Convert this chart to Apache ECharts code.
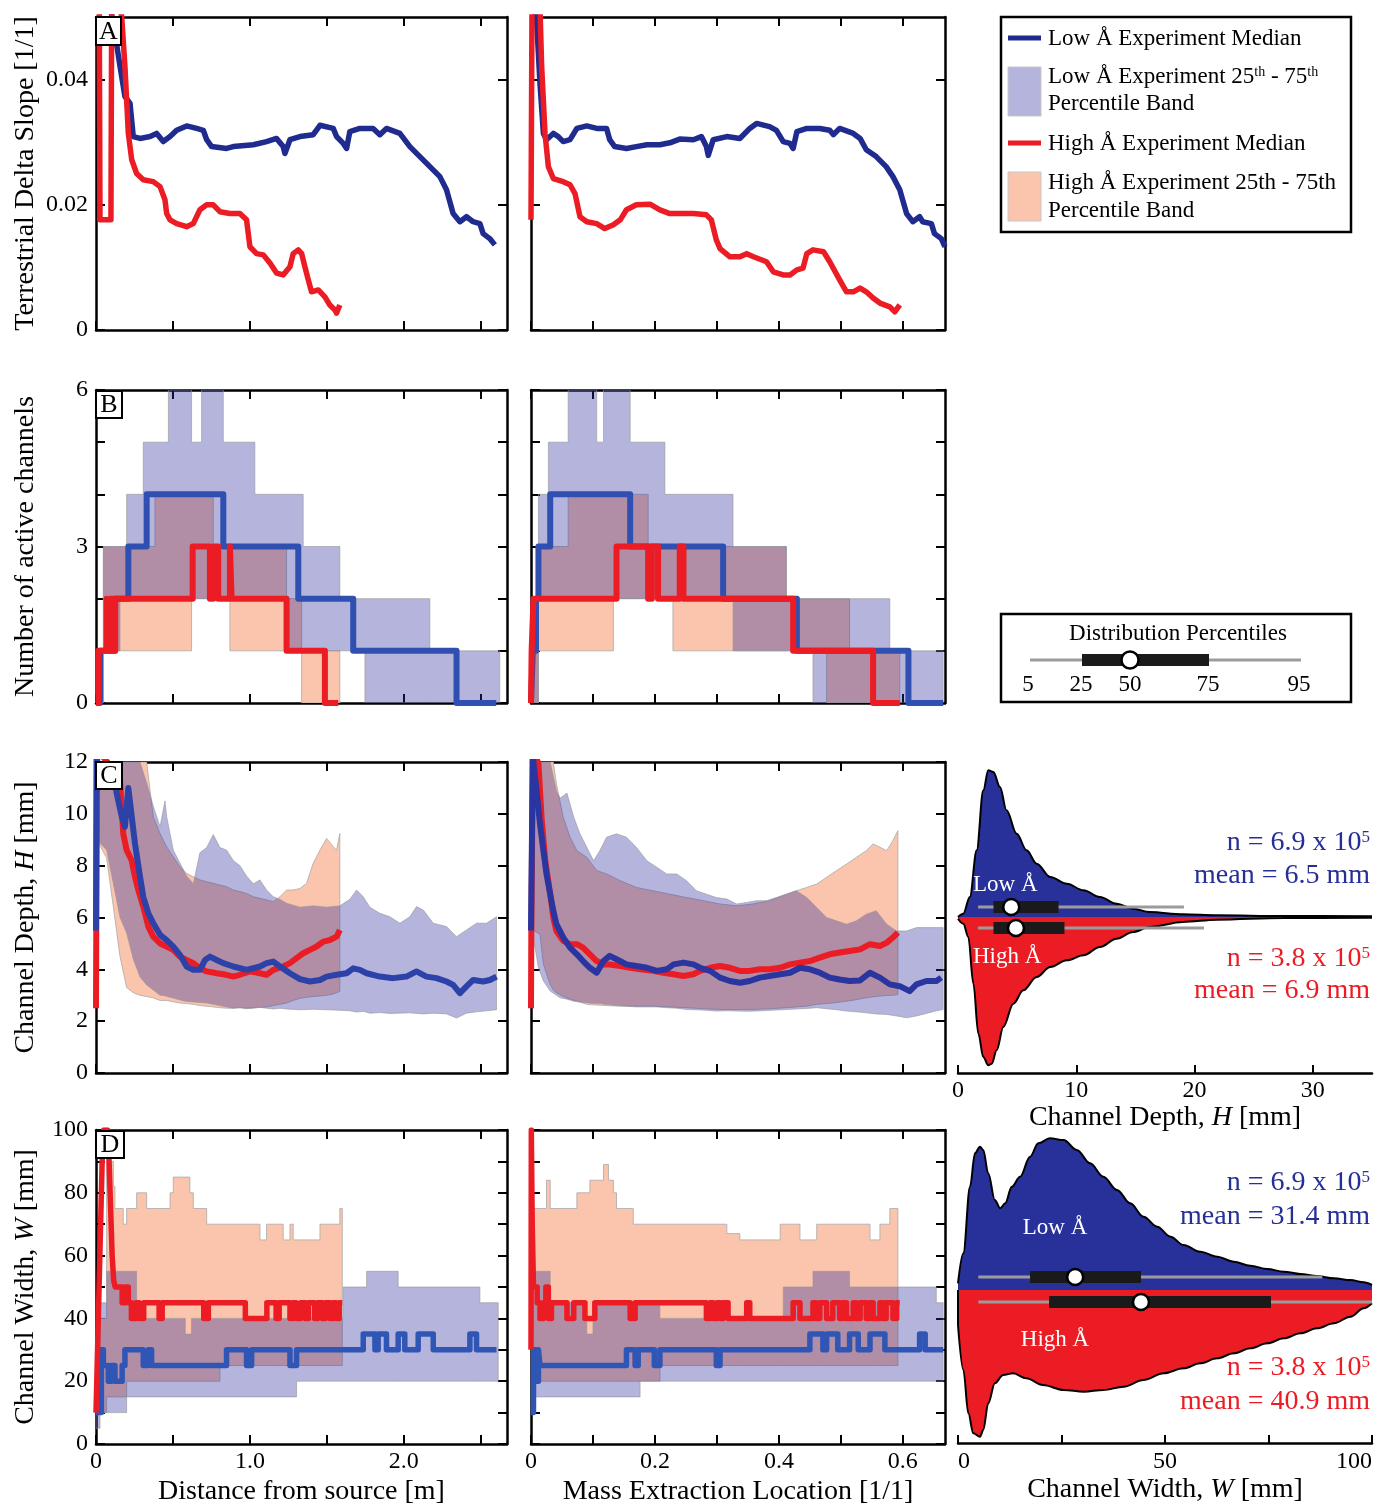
<!DOCTYPE html>
<html><head><meta charset="utf-8">
<script src="https://cdn.jsdelivr.net/npm/echarts@6/dist/echarts.min.js"></script>
<style>html,body{margin:0;padding:0;background:#fff}#c{width:1392px;height:1507px}</style>
</head><body><div id="c"></div>
<script>
// ---------------- DATA ----------------
// Row A: terrestrial delta slope (median)
const slopeLowDist = [[0.09,0.052],[0.123,0.0474],[0.156,0.0421],[0.188,0.0373],[0.221,0.0362],[0.242,0.0309],[0.286,0.0306],[0.351,0.0309],[0.394,0.0314],[0.437,0.0301],[0.481,0.0309],[0.524,0.0319],[0.589,0.0326],[0.654,0.0322],[0.697,0.0319],[0.719,0.0304],[0.751,0.0293],[0.848,0.0290],[0.892,0.0293],[1.022,0.0296],[1.108,0.0301],[1.173,0.0306],[1.216,0.0293],[1.227,0.0282],[1.26,0.0304],[1.325,0.0309],[1.411,0.0312],[1.455,0.0327],[1.541,0.0322],[1.563,0.0309],[1.606,0.0298],[1.628,0.0290],[1.649,0.0317],[1.714,0.0322],[1.80,0.0322],[1.844,0.0312],[1.887,0.0322],[1.974,0.0314],[2.039,0.0293],[2.104,0.0277],[2.169,0.0261],[2.234,0.0245],[2.277,0.0224],[2.32,0.0186],[2.364,0.0173],[2.407,0.0181],[2.45,0.0173],[2.494,0.0170],[2.515,0.0154],[2.558,0.0146],[2.591,0.0136]];
const slopeHighDist = [[0.02,0.06],[0.026,0.0176],[0.097,0.0176],[0.103,0.06],[0.167,0.05],[0.188,0.0421],[0.210,0.0314],[0.232,0.0272],[0.264,0.0250],[0.307,0.0240],[0.372,0.0237],[0.416,0.0229],[0.448,0.0208],[0.459,0.0186],[0.481,0.0176],[0.524,0.0170],[0.589,0.0165],[0.632,0.0170],[0.675,0.0192],[0.719,0.0200],[0.762,0.0200],[0.805,0.0189],[0.870,0.0186],[0.935,0.0186],[0.978,0.0176],[1.0,0.0133],[1.043,0.0122],[1.087,0.0120],[1.13,0.0107],[1.173,0.0091],[1.216,0.0088],[1.26,0.0101],[1.281,0.0122],[1.314,0.0128],[1.336,0.0122],[1.357,0.0101],[1.379,0.0080],[1.4,0.0061],[1.444,0.0064],[1.487,0.0053],[1.519,0.0040],[1.552,0.0032],[1.563,0.0027],[1.584,0.0040]];
const slopeLowMass = [[0.004,0.052],[0.009,0.0495],[0.0145,0.0394],[0.020,0.0314],[0.025,0.0304],[0.036,0.0314],[0.044,0.0309],[0.052,0.0301],[0.063,0.0304],[0.074,0.0322],[0.090,0.0326],[0.106,0.0322],[0.122,0.0322],[0.127,0.0304],[0.135,0.0293],[0.154,0.0290],[0.170,0.0293],[0.187,0.0296],[0.208,0.0296],[0.224,0.0299],[0.240,0.0305],[0.262,0.0304],[0.275,0.0309],[0.283,0.0293],[0.286,0.0279],[0.294,0.0304],[0.316,0.0309],[0.337,0.0306],[0.353,0.0322],[0.364,0.0330],[0.385,0.0325],[0.396,0.0319],[0.407,0.0301],[0.418,0.0298],[0.423,0.0290],[0.429,0.0317],[0.445,0.0322],[0.466,0.0322],[0.482,0.0319],[0.488,0.0312],[0.498,0.0322],[0.520,0.0314],[0.531,0.0306],[0.541,0.0288],[0.557,0.0277],[0.573,0.0261],[0.584,0.0245],[0.595,0.0224],[0.606,0.0186],[0.616,0.0173],[0.627,0.0181],[0.632,0.0173],[0.646,0.0170],[0.651,0.0154],[0.662,0.0146],[0.668,0.0133]];
const slopeHighMass = [[0,0.0176],[0.002,0.06],[0.012,0.06],[0.0172,0.0421],[0.0226,0.0314],[0.028,0.0261],[0.036,0.0242],[0.052,0.0237],[0.063,0.0232],[0.071,0.0218],[0.079,0.0181],[0.090,0.0173],[0.106,0.0170],[0.119,0.0162],[0.133,0.0168],[0.144,0.0176],[0.154,0.0192],[0.170,0.0200],[0.192,0.0201],[0.208,0.0192],[0.224,0.0186],[0.240,0.0186],[0.262,0.0186],[0.283,0.0184],[0.291,0.0176],[0.299,0.0144],[0.305,0.0130],[0.321,0.0117],[0.337,0.0117],[0.348,0.0122],[0.359,0.0117],[0.380,0.0109],[0.391,0.0093],[0.407,0.0088],[0.418,0.0088],[0.429,0.0096],[0.439,0.0099],[0.445,0.0122],[0.455,0.0128],[0.472,0.0125],[0.482,0.0109],[0.498,0.0080],[0.509,0.0061],[0.520,0.0061],[0.531,0.0067],[0.541,0.0061],[0.552,0.0051],[0.563,0.0043],[0.579,0.0037],[0.587,0.0029],[0.595,0.0040]];

// Row B: number of active channels (median, step) and 25-75 bands [x, lo, hi]
const chanLowDist = [[0,0],[0.026,1],[0.123,2],[0.21,3],[0.329,4],[0.827,3],[1.314,2],[1.671,1],[2.342,0],[2.60,0]];
const chanHighDist = [[0,0],[0.015,1],[0.069,2],[0.08,1],[0.095,2],[0.11,1],[0.125,2],[0.628,3],[0.74,2],[0.762,3],[0.794,2],[0.87,3],[0.881,2],[1.238,1],[1.487,0],[1.574,0]];
const chanLowMass = [[0,0],[0.003,1],[0.008,2],[0.012,3],[0.031,4],[0.160,3],[0.310,2],[0.429,1],[0.609,0],[0.665,0]];
const chanHighMass = [[0,0],[0.001,1],[0.004,2],[0.138,3],[0.189,2],[0.195,3],[0.205,2],[0.240,3],[0.246,2],[0.423,1],[0.552,0],[0.595,0]];
const chanBandLowDist = [[0,0,1],[0.048,1,3],[0.156,2,3],[0.199,2,4],[0.307,2,5],[0.47,2,6],[0.621,2,5],[0.686,2,6],[0.827,2,5],[1.032,2,4],[1.238,1,4],[1.346,1,3],[1.584,1,2],[1.747,0,2],[2.169,0,1],[2.623,0,1]];
const chanBandHighDist = [[0.015,0,1],[0.048,1,3],[0.383,1,4],[0.621,2,4],[0.762,2,3],[0.870,1,3],[1.238,1,2],[1.336,0,1],[1.584,0,1]];
const chanBandLowMass = [[0,0,1],[0.012,2,4],[0.028,2,5],[0.060,2,6],[0.106,2,5],[0.117,2,6],[0.160,2,5],[0.216,2,4],[0.326,1,3],[0.412,1,2],[0.455,0,2],[0.579,0,1],[0.665,0,1]];
const chanBandHighMass = [[0.001,0,2],[0.012,1,3],[0.060,1,4],[0.133,2,4],[0.189,2,3],[0.229,1,3],[0.412,1,2],[0.477,0,2],[0.514,0,1],[0.595,0,1]];

// Row C: channel depth H [mm]
const depthLowDist = [[0,5.5],[0.004,12.5],[0.015,11.2],[0.113,11.7],[0.134,10.8],[0.167,9.9],[0.188,9.5],[0.210,11.0],[0.232,9.9],[0.253,8.86],[0.286,7.57],[0.307,6.8],[0.340,6.16],[0.372,5.78],[0.416,5.33],[0.459,5.13],[0.502,4.88],[0.545,4.56],[0.589,4.11],[0.632,3.98],[0.675,3.98],[0.708,4.36],[0.740,4.49],[0.784,4.36],[0.827,4.24],[0.892,4.11],[0.978,3.98],[1.065,4.11],[1.108,4.24],[1.152,4.30],[1.195,4.11],[1.26,3.85],[1.325,3.62],[1.39,3.53],[1.455,3.59],[1.498,3.72],[1.563,3.79],[1.628,3.85],[1.671,4.04],[1.714,3.98],[1.758,3.85],[1.844,3.72],[1.931,3.66],[2.017,3.72],[2.082,3.92],[2.147,3.72],[2.212,3.66],[2.277,3.53],[2.32,3.40],[2.364,3.08],[2.407,3.34],[2.45,3.59],[2.515,3.53],[2.558,3.59],[2.602,3.72]];
const depthHighDist = [[0,2.5],[0.006,12.5],[0.113,11.7],[0.156,11.3],[0.177,9.24],[0.199,8.6],[0.232,8.2],[0.253,7.57],[0.275,7.06],[0.307,6.42],[0.340,5.65],[0.372,5.26],[0.416,5.0],[0.459,4.88],[0.502,4.75],[0.545,4.49],[0.589,4.36],[0.632,4.24],[0.675,4.04],[0.719,3.92],[0.784,3.85],[0.848,3.79],[0.892,3.72],[0.935,3.79],[1.0,3.92],[1.065,3.85],[1.108,3.79],[1.152,3.98],[1.216,4.11],[1.26,4.24],[1.303,4.43],[1.346,4.62],[1.39,4.75],[1.433,4.88],[1.476,5.07],[1.519,5.13],[1.563,5.26],[1.584,5.52]];
const depthLowMass = [[0,5.5],[0.003,12.5],[0.004,11.94],[0.009,10.9],[0.0145,9.61],[0.020,8.58],[0.025,7.68],[0.031,6.9],[0.036,6.26],[0.041,5.74],[0.052,5.23],[0.063,4.84],[0.074,4.58],[0.084,4.32],[0.095,4.06],[0.106,3.87],[0.117,4.32],[0.127,4.52],[0.138,4.39],[0.154,4.19],[0.170,4.13],[0.187,4.06],[0.203,3.94],[0.219,4.0],[0.230,4.19],[0.246,4.26],[0.262,4.19],[0.273,4.06],[0.289,3.94],[0.305,3.68],[0.321,3.55],[0.337,3.48],[0.353,3.55],[0.369,3.68],[0.385,3.74],[0.402,3.81],[0.418,3.87],[0.434,4.06],[0.450,4.0],[0.466,3.87],[0.482,3.68],[0.498,3.61],[0.514,3.55],[0.531,3.57],[0.547,3.87],[0.563,3.68],[0.579,3.42],[0.595,3.35],[0.611,3.16],[0.622,3.42],[0.638,3.55],[0.654,3.55],[0.662,3.68]];
const depthHighMass = [[0,2.5],[0.0005,5.4],[0.003,12.5],[0.012,11.94],[0.017,9.87],[0.023,8.19],[0.031,6.9],[0.036,6.0],[0.041,5.48],[0.052,5.1],[0.063,4.97],[0.074,4.97],[0.084,4.84],[0.095,4.58],[0.106,4.32],[0.117,4.19],[0.127,4.19],[0.144,4.13],[0.160,4.06],[0.176,4.0],[0.197,3.94],[0.213,3.87],[0.230,3.81],[0.246,3.74],[0.262,3.81],[0.273,3.94],[0.289,4.06],[0.305,4.13],[0.321,4.06],[0.337,3.94],[0.353,3.94],[0.369,4.0],[0.385,4.0],[0.402,4.06],[0.418,4.19],[0.434,4.26],[0.450,4.32],[0.466,4.45],[0.482,4.58],[0.498,4.65],[0.514,4.71],[0.531,4.77],[0.547,4.97],[0.563,4.9],[0.574,5.03],[0.584,5.23],[0.592,5.42]];
const depthBandLowDist = [[0.004,9.0,12],[0.069,8.6,12],[0.113,7.3,12],[0.156,6.0,12],[0.199,5.4,12],[0.242,4.4,12],[0.286,3.7,12],[0.329,3.4,11.2],[0.372,3.2,10.3],[0.416,3.0,9.5],[0.448,2.98,10.5],[0.459,2.95,9.9],[0.502,2.89,8.6],[0.545,2.82,8.1],[0.589,2.76,7.6],[0.632,2.74,7.3],[0.675,2.72,8.5],[0.719,2.70,8.7],[0.762,2.65,9.2],[0.805,2.60,8.7],[0.848,2.55,8.6],[0.892,2.50,8.2],[0.935,2.52,8.0],[0.978,2.48,7.6],[1.022,2.50,7.3],[1.065,2.53,7.45],[1.108,2.50,7.06],[1.152,2.47,6.8],[1.195,2.50,6.7],[1.238,2.47,6.55],[1.325,2.44,6.4],[1.411,2.46,6.45],[1.498,2.44,6.4],[1.584,2.42,6.45],[1.649,2.40,6.7],[1.693,2.35,7.06],[1.736,2.38,6.8],[1.779,2.31,6.4],[1.844,2.33,6.16],[1.909,2.30,6.03],[1.974,2.31,5.78],[2.039,2.32,6.03],[2.082,2.30,6.42],[2.126,2.28,6.29],[2.191,2.31,5.78],[2.277,2.28,5.65],[2.342,2.12,5.26],[2.407,2.31,5.52],[2.472,2.36,5.78],[2.537,2.40,5.78],[2.602,2.44,6.03]];
const depthBandHighDist = [[0.004,9.0,12],[0.069,8.3,12],[0.113,6.4,12],[0.156,4.5,12],[0.199,3.3,12],[0.242,3.1,12],[0.286,3.0,12],[0.329,2.95,12],[0.372,2.9,9.88],[0.416,2.8,9.24],[0.459,2.8,8.73],[0.502,2.75,8.34],[0.545,2.7,7.96],[0.589,2.68,7.70],[0.632,2.65,7.57],[0.675,2.6,7.45],[0.719,2.58,7.38],[0.762,2.55,7.32],[0.805,2.52,7.25],[0.848,2.5,7.19],[0.892,2.5,7.06],[0.935,2.52,7.0],[0.978,2.5,6.93],[1.022,2.52,6.8],[1.065,2.53,6.74],[1.108,2.55,6.68],[1.152,2.6,6.61],[1.195,2.65,6.8],[1.238,2.7,7.06],[1.281,2.8,7.06],[1.325,2.88,7.12],[1.368,2.92,7.32],[1.411,2.95,8.09],[1.455,2.97,8.6],[1.498,3.0,9.05],[1.541,3.05,8.73],[1.563,3.1,8.6],[1.584,3.15,9.24]];
const depthBandLowMass = [[0.004,5.2,12],[0.012,4.06,12],[0.020,3.55,12],[0.031,3.16,12],[0.041,3.0,10.9],[0.047,2.9,10.6],[0.058,2.85,10.8],[0.069,2.77,9.87],[0.079,2.74,9.23],[0.090,2.71,8.71],[0.101,2.68,8.19],[0.111,2.68,8.58],[0.122,2.64,9.1],[0.138,2.6,9.23],[0.154,2.58,9.1],[0.170,2.55,8.71],[0.187,2.55,8.19],[0.203,2.55,7.94],[0.219,2.52,7.68],[0.235,2.5,7.68],[0.251,2.45,7.42],[0.267,2.44,7.03],[0.283,2.42,6.9],[0.299,2.39,6.77],[0.316,2.40,6.71],[0.332,2.39,6.52],[0.348,2.38,6.58],[0.364,2.39,6.65],[0.380,2.41,6.65],[0.396,2.43,6.77],[0.412,2.45,6.9],[0.428,2.47,7.03],[0.445,2.49,6.77],[0.461,2.52,6.39],[0.477,2.48,6.0],[0.493,2.44,5.87],[0.509,2.39,5.74],[0.525,2.36,5.87],[0.541,2.32,6.13],[0.557,2.28,6.26],[0.574,2.26,5.74],[0.590,2.2,5.48],[0.606,2.13,5.48],[0.622,2.2,5.61],[0.638,2.3,5.61],[0.654,2.4,5.61],[0.665,2.45,5.61]];
const depthBandHighMass = [[0.004,5.5,12],[0.0145,5.35,12],[0.020,4.19,12],[0.031,3.42,12],[0.036,3.2,12],[0.041,3.1,11.16],[0.052,2.95,9.87],[0.063,2.85,9.1],[0.074,2.77,8.58],[0.090,2.65,8.32],[0.106,2.62,7.81],[0.122,2.6,7.68],[0.144,2.58,7.42],[0.170,2.58,7.16],[0.197,2.58,7.03],[0.224,2.55,6.9],[0.251,2.52,6.77],[0.278,2.48,6.65],[0.305,2.45,6.52],[0.332,2.45,6.45],[0.358,2.45,6.52],[0.385,2.48,6.65],[0.412,2.52,6.9],[0.428,2.55,7.03],[0.445,2.58,7.16],[0.461,2.65,7.29],[0.477,2.68,7.55],[0.493,2.72,7.81],[0.509,2.77,8.06],[0.525,2.83,8.32],[0.541,2.9,8.58],[0.552,2.94,8.84],[0.563,2.97,8.71],[0.574,2.99,8.58],[0.584,3.0,8.97],[0.592,3.03,9.35]];

// Row D: channel width W [mm] (median, step) and bands
const widthLowDist = [[0,10],[0.035,30],[0.048,25],[0.08,20],[0.10,25],[0.123,20],[0.17,25],[0.188,30],[0.307,25],[0.340,30],[0.361,25],[0.848,30],[0.978,25],[1.011,30],[1.26,25],[1.303,30],[1.736,35],[1.812,30],[1.833,35],[1.887,30],[1.963,35],[2.006,30],[2.093,35],[2.191,30],[2.429,35],[2.472,30],[2.602,30]];
const widthHighDist = [[0,10],[0.01,30],[0.02,50],[0.03,70],[0.04,90],[0.05,100],[0.075,100],[0.085,90],[0.095,75],[0.105,60],[0.115,52],[0.125,50],[0.17,45],[0.19,50],[0.21,45],[0.23,40],[0.26,45],[0.28,40],[0.31,45],[0.41,40],[0.43,45],[0.70,40],[0.73,45],[0.97,40],[1.11,45],[1.17,40],[1.19,45],[1.26,40],[1.28,45],[1.30,40],[1.33,45],[1.36,40],[1.38,45],[1.42,40],[1.44,45],[1.47,40],[1.49,45],[1.52,40],[1.54,45],[1.56,40],[1.58,45],[1.60,45]];
const widthLowMass = [[0,10],[0.004,30],[0.008,20],[0.012,30],[0.0145,25],[0.154,30],[0.168,25],[0.173,30],[0.199,25],[0.208,30],[0.299,25],[0.305,30],[0.45,35],[0.471,30],[0.477,35],[0.495,30],[0.514,35],[0.528,30],[0.547,35],[0.571,30],[0.627,35],[0.636,30],[0.665,30]];
const widthHighMass = [[0,30],[0.0005,100],[0.002,70],[0.004,50],[0.010,45],[0.0145,40],[0.020,45],[0.024,50],[0.028,40],[0.033,45],[0.058,40],[0.069,45],[0.087,40],[0.103,45],[0.160,40],[0.168,45],[0.283,40],[0.289,45],[0.294,40],[0.30,45],[0.305,40],[0.31,45],[0.318,40],[0.348,45],[0.353,40],[0.423,45],[0.434,40],[0.455,45],[0.46,40],[0.466,45],[0.477,40],[0.487,45],[0.498,40],[0.503,45],[0.509,40],[0.52,45],[0.525,40],[0.531,45],[0.541,40],[0.546,45],[0.552,40],[0.563,45],[0.568,40],[0.573,45],[0.584,40],[0.59,45],[0.595,45]];
const widthBandLowDist = [[0,5,25],[0.026,10,45],[0.069,10,55],[0.199,15,55],[0.264,15,45],[0.30,15,40],[0.58,15,35],[0.62,15,40],[1.303,20,40],[1.606,20,50],[1.758,20,55],[1.963,20,50],[2.494,20,45],[2.613,20,45]];
const widthBandHighDist = [[0.026,10,40],[0.069,15,90],[0.113,15,82],[0.123,15,75],[0.177,15,70],[0.199,20,75],[0.264,20,80],[0.329,20,75],[0.481,20,80],[0.502,20,85],[0.61,20,80],[0.632,20,75],[0.719,20,70],[0.805,25,70],[1.065,25,65],[1.108,25,70],[1.216,25,65],[1.26,25,70],[1.281,25,65],[1.455,25,70],[1.584,25,75],[1.60,25,75]];
const widthBandLowMass = [[0,10,30],[0.002,10,50],[0.006,15,55],[0.031,15,45],[0.09,15,35],[0.10,15,45],[0.176,20,45],[0.208,20,40],[0.407,20,50],[0.455,20,55],[0.514,20,50],[0.654,20,45],[0.665,20,45]];
const widthBandHighMass = [[0.001,20,75],[0.025,20,84],[0.031,20,75],[0.074,20,80],[0.095,20,84],[0.117,20,89],[0.125,20,84],[0.133,20,80],[0.138,20,75],[0.165,20,70],[0.208,25,70],[0.316,25,67],[0.337,25,65],[0.402,25,70],[0.434,25,65],[0.461,25,70],[0.547,25,65],[0.563,25,70],[0.579,25,75],[0.592,25,75]];

// Violin densities (relative, arbitrary units) [value mm, density]
const depthLowViolin = [[0,0],[0.45,3.3],[1.0,20],[1.58,66.7],[2.14,126.7],[2.56,146.7],[2.99,145],[3.55,130],[4.1,106.7],[4.96,83.3],[5.8,66.7],[6.65,53.3],[7.8,40],[9.2,33.3],[10.6,26.7],[12.0,20],[13.4,13.3],[14.8,8.3],[16.2,5],[19.0,2.7],[21.9,1.7],[27.5,1],[35,0.7]];
const depthHighViolin = [[0,1.7],[0.45,6.7],[0.87,20],[1.3,66.7],[1.72,116.7],[2.14,140],[2.56,148.3],[2.85,146.7],[3.27,133.3],[3.83,110],[4.68,86.7],[5.52,73.3],[6.65,60],[7.8,50],[9.2,43.3],[10.6,38.3],[12.0,30],[13.4,21.7],[14.8,15],[16.2,10],[19.0,5],[21.9,2.7],[27.5,1],[35,0.7]];
const widthLowViolin = [[0,6.7],[1.29,36.7],[2.9,103.3],[4.1,136.7],[5.3,143.3],[6.1,140],[7.3,116.7],[8.9,90],[10.2,81.7],[11.4,86.7],[13.0,103.3],[15.0,113.3],[17.4,133.3],[19.4,146.7],[22.2,151.7],[25.5,150],[28.7,140],[31.9,126.7],[35.1,113.3],[38.4,100],[41.6,86.7],[44.8,73.3],[48.1,63.3],[51.3,53.3],[54.5,45],[58.5,38.3],[62.6,33.3],[66.6,28.3],[70.6,24.3],[74.7,21],[78.7,18.3],[82.7,16],[86.7,14],[90.8,11.7],[94.8,10],[98,7.7],[100,5]];
const widthHighViolin = [[0,35],[1.29,80],[2.5,123.3],[3.7,143.3],[5.3,146.7],[6.1,140],[7.3,113.3],[8.9,93.3],[10.9,85],[13.3,83.3],[16.5,88.3],[20.5,95],[25.5,100],[30.4,101.7],[35.1,100],[40.0,96.7],[44.8,90],[49.7,83.3],[54.5,78.3],[58.5,73.3],[62.6,68.3],[66.6,63.3],[70.6,58.3],[74.7,53.3],[78.7,48.3],[82.7,43.3],[86.7,38.3],[90.8,33.3],[94.8,26.7],[98,18.3],[100,13.3]];
// Percentiles [p5, p25, p50, p75, p95]
const depthLowPct = [1.7, 3.0, 4.5, 8.5, 19.1];
const depthHighPct = [1.7, 3.0, 4.9, 9.0, 20.8];
const widthLowPct = [4.9, 17.4, 28.3, 44.2, 88];
const widthHighPct = [4.9, 22, 44.2, 75.6, 100];

// Tick values / labels
const distTicks = [0,0.5,1,1.5,2,2.5], distLabels = [0,1,2];
const massTicks = [0,0.1,0.2,0.3,0.4,0.5,0.6], massLabels = [0,0.2,0.4,0.6];
const slopeTicks = [0,0.02,0.04];
const chanTicks = [0,1,2,3,4,5,6], chanLabels = [0,3,6];
const depthTicks = [0,2,4,6,8,10,12];
const widthTicks = [0,10,20,30,40,50,60,70,80,90,100], widthLabels = [0,20,40,60,80,100];
const vDepthTicks = [0,10,20,30];
const vWidthTicks = [0,25,50,75,100], vWidthLabels = [0,50,100];

// ---------------- BUILD ----------------
const FONT = "'Liberation Serif','Times New Roman',serif";
const RED = '#ec1c24';
const BAND_BLUE_LEGEND = '#b4b4dc', BAND_PEACH = '#fac5ac';
const BAND_BLUE_FILL = 'rgba(41,41,155,0.35)';
const VBLUE = '#28309a';

const grids = [
  {left:96, top:17, width:411, height:313},
  {left:531, top:17, width:414, height:313},
  {left:96, top:390, width:411, height:313},
  {left:531, top:390, width:414, height:313},
  {left:96, top:762, width:411, height:311},
  {left:531, top:762, width:414, height:311},
  {left:96, top:1130, width:411, height:314},
  {left:531, top:1130, width:414, height:314},
  {left:958, top:757, width:414, height:316},
  {left:958, top:1135, width:414, height:308}
];

const cols = [
  {min:0, max:2.67, interval:0.5, ticks:distTicks, labels:distLabels, fmt:v=> v===0?'0':v.toFixed(1), name:'Distance from source [m]'},
  {min:0, max:0.668, interval:0.1, ticks:massTicks, labels:massLabels, fmt:v=> v===0?'0':v.toFixed(1), name:'Mass Extraction Location [1/1]'}
];
const italicRich = {i:{fontStyle:'italic', fontFamily:FONT, fontSize:28, color:'#000'}};
const rows = [
  {min:0, max:0.05, interval:0.02, ticks:slopeTicks, labels:slopeTicks, fmt:v=> v===0?'0':v.toFixed(2), name:'Terrestrial Delta Slope [1/1]'},
  {min:0, max:6, interval:1, ticks:chanTicks, labels:chanLabels, fmt:v=>String(v), name:'Number of active channels'},
  {min:0, max:12, interval:2, ticks:depthTicks, labels:depthTicks, fmt:v=>String(v), name:'Channel Depth, {i|H} [mm]'},
  {min:0, max:100, interval:10, ticks:widthTicks, labels:widthLabels, fmt:v=>String(v), name:'Channel Width, {i|W} [mm]'}
];

const axLine = {show:true, onZero:false, lineStyle:{color:'#000', width:2.5}};
const axTick = (vals)=>({show:true, inside:true, length:9, customValues:vals, lineStyle:{color:'#000', width:2}});
const nameStyle = {fontFamily:FONT, fontSize:28, color:'#000', rich:italicRich};

const xAxis = [], yAxis = [];
for (let g=0; g<8; g++) {
  const r = Math.floor(g/2), c = g%2;
  const cx = cols[c], ry = rows[r];
  const showX = (r===3);
  xAxis.push({type:'value', gridIndex:g, position:'bottom', min:cx.min, max:cx.max, interval:cx.interval,
    axisLine:axLine, axisTick:axTick(cx.ticks), splitLine:{show:false},
    axisLabel:{show:showX, customValues:cx.labels, formatter:cx.fmt, fontFamily:FONT, fontSize:24, color:'#000', margin:6},
    name: showX?cx.name:'', nameLocation:'middle', nameGap:34, nameTextStyle:nameStyle});
  xAxis.push({type:'value', gridIndex:g, position:'top', min:cx.min, max:cx.max, interval:cx.interval,
    axisLine:axLine, axisTick:axTick(cx.ticks), splitLine:{show:false}, axisLabel:{show:false}});
  yAxis.push({type:'value', gridIndex:g, position:'left', min:ry.min, max:ry.max, interval:ry.interval,
    axisLine:axLine, axisTick:axTick(ry.ticks), splitLine:{show:false},
    axisLabel:{show:c===0, customValues:ry.labels, formatter:ry.fmt, fontFamily:FONT, fontSize:24, color:'#000', margin:8},
    name: c===0?ry.name:'', nameLocation:'middle', nameGap:56, nameTextStyle:nameStyle});
  yAxis.push({type:'value', gridIndex:g, position:'right', min:ry.min, max:ry.max, interval:ry.interval,
    axisLine:axLine, axisTick:axTick(ry.ticks), splitLine:{show:false}, axisLabel:{show:false}});
}
// violin axes
xAxis.push({type:'value', gridIndex:8, position:'bottom', min:0, max:35, interval:10,
  axisLine:axLine, axisTick:{show:true, inside:true, length:8, customValues:vDepthTicks, lineStyle:{color:'#000', width:2}}, splitLine:{show:false},
  axisLabel:{customValues:vDepthTicks, fontFamily:FONT, fontSize:24, color:'#000', margin:6},
  name:'Channel Depth, {i|H} [mm]', nameLocation:'middle', nameGap:28, nameTextStyle:nameStyle});
xAxis.push({type:'value', gridIndex:9, position:'bottom', min:0, max:100, interval:25,
  axisLine:axLine, axisTick:{show:true, inside:true, length:8, customValues:vWidthTicks, lineStyle:{color:'#000', width:2}}, splitLine:{show:false},
  axisLabel:{customValues:vWidthLabels, fontFamily:FONT, fontSize:24, color:'#000', margin:7, alignMaxLabel:'right', alignMinLabel:'left'},
  name:'Channel Width, {i|W} [mm]', nameLocation:'middle', nameGap:33, nameTextStyle:nameStyle});
yAxis.push({type:'value', gridIndex:8, min:-156, max:160, show:false});
yAxis.push({type:'value', gridIndex:9, min:-153, max:155, show:false});

function bind(g){ return g<8 ? {xAxisIndex:2*g, yAxisIndex:2*g} : {xAxisIndex:8+g, yAxisIndex:8+g}; }

// 25-75 band polygon drawn from the data through the axes (api.coord)
function band(data, g, step, fill, stroke, z) {
  return Object.assign({
    type:'custom', z:z, silent:true, clip:true, data:data, encode:{x:0, y:[1,2]},
    renderItem:function(params, api){
      if (params.dataIndex !== 0) return null;
      const up=[], lo=[], n=data.length;
      if (step) {
        for (let i=0;i<n-1;i++){
          up.push(api.coord([data[i][0], data[i][2]]), api.coord([data[i+1][0], data[i][2]]));
          lo.push(api.coord([data[i][0], data[i][1]]), api.coord([data[i+1][0], data[i][1]]));
        }
      } else {
        for (let i=0;i<n;i++){ up.push(api.coord([data[i][0], data[i][2]])); lo.push(api.coord([data[i][0], data[i][1]])); }
      }
      return {type:'polygon', shape:{points:up.concat(lo.reverse())},
        style:{fill:fill, stroke:stroke, lineWidth:1}};
    }
  }, bind(g));
}
const peachBand = (d,g,step)=>band(d,g,step,BAND_PEACH,'rgba(170,170,170,0.8)',1);
const blueBand = (d,g,step)=>band(d,g,step,BAND_BLUE_FILL,'rgba(150,150,150,0.6)',2);

function line(data, g, color, width, step, z) {
  return Object.assign({type:'line', data:data, symbol:'none', showSymbol:false, step:step||false, z:z||3,
    silent:true, clip:true, lineStyle:{color:color, width:width, join:'round'}}, bind(g));
}
function violin(data, g, color, sign) {
  return Object.assign({type:'line', data:data.map(p=>[p[0], sign*p[1]]), symbol:'none', smooth:0.35, smoothMonotone:'x',
    silent:true, z:2, lineStyle:{color:'#000', width:2}, areaStyle:{color:color, opacity:1, origin:0}}, bind(g));
}
function violinEdge(data, g, sign) {
  return Object.assign({type:'line', data:[[data[0][0],0],[data[0][0], sign*data[0][1]]], symbol:'none', silent:true, z:3,
    lineStyle:{color:'#000', width:2}}, bind(g));
}
function pctMarker(p, g, off) {
  return [
    Object.assign({type:'line', data:[[p[0],off],[p[4],off]], symbol:'none', silent:true, z:5, lineStyle:{color:'#9b9b9b', width:3}}, bind(g)),
    Object.assign({type:'line', data:[[p[1],off],[p[3],off]], symbol:'none', silent:true, z:6, lineStyle:{color:'#1a1a1a', width:12, cap:'butt'}}, bind(g)),
    Object.assign({type:'scatter', data:[[p[2],off]], symbol:'circle', symbolSize:16, silent:true, z:7,
      itemStyle:{color:'#ffffff', opacity:1, borderColor:'#000', borderWidth:2.5}}, bind(g))
  ];
}

const series = [
  // Row A
  line(slopeLowDist, 0, '#1f2b8e', 5.5), line(slopeHighDist, 0, RED, 5.5, false, 4),
  line(slopeLowMass, 1, '#1f2b8e', 5.5), line(slopeHighMass, 1, RED, 5.5, false, 4),
  // Row B
  peachBand(chanBandHighDist, 2, true), blueBand(chanBandLowDist, 2, true),
  line(chanLowDist, 2, '#2f50b0', 6, 'end'), line(chanHighDist, 2, RED, 6, 'end', 4),
  peachBand(chanBandHighMass, 3, true), blueBand(chanBandLowMass, 3, true),
  line(chanLowMass, 3, '#2f50b0', 6, 'end'), line(chanHighMass, 3, RED, 6, 'end', 4),
  // Row C
  peachBand(depthBandHighDist, 4, false), blueBand(depthBandLowDist, 4, false),
  line(depthHighDist, 4, RED, 6, false, 3), line(depthLowDist, 4, '#2d42a8', 6, false, 4),
  peachBand(depthBandHighMass, 5, false), blueBand(depthBandLowMass, 5, false),
  line(depthHighMass, 5, RED, 6, false, 3), line(depthLowMass, 5, '#2a35a0', 6, false, 4),
  // Row D
  peachBand(widthBandHighDist, 6, true), blueBand(widthBandLowDist, 6, true),
  line(widthLowDist, 6, '#2f55b5', 5.5, 'end'), line(widthHighDist, 6, RED, 5.5, 'end', 4),
  peachBand(widthBandHighMass, 7, true), blueBand(widthBandLowMass, 7, true),
  line(widthLowMass, 7, '#2f55b5', 5.5, 'end'), line(widthHighMass, 7, RED, 5.5, 'end', 4),
  // Violins
  violin(depthLowViolin, 8, VBLUE, 1), violin(depthHighViolin, 8, RED, -1),
  violin(widthLowViolin, 9, VBLUE, 1), violin(widthHighViolin, 9, RED, -1),
  violinEdge(widthHighViolin, 9, -1)
].concat(pctMarker(depthLowPct, 8, 10), pctMarker(depthHighPct, 8, -11),
         pctMarker(widthLowPct, 9, 13), pctMarker(widthHighPct, 9, -12));

// ---------------- ANNOTATIONS (graphic) ----------------
const T = (x,y,text,size,opt)=>Object.assign({type:'text', x:x, y:y, z:100,
  style:Object.assign({text:text, font:size+'px '+FONT, fill:'#000', align:'left', verticalAlign:'middle'}, opt||{})});
function panelLabel(x,y,w,h,letter){
  return [
    {type:'rect', z:100, shape:{x:x,y:y,width:w,height:h}, style:{fill:'#fff', stroke:'#000', lineWidth:2}},
    T(x+w/2, y+h/2+1, letter, 26, {align:'center'})
  ];
}
const supStyle = (c)=>({sup:{fontSize:17, fontFamily:FONT, verticalAlign:'top', fill:c}});
const graphic = [].concat(
  panelLabel(96,17,25,28,'A'), panelLabel(96,391,26,27,'B'), panelLabel(96,762,26,27,'C'), panelLabel(96,1131,28,27,'D'),
  [
    // legend box
    {type:'rect', z:90, shape:{x:1001,y:17,width:350,height:215}, style:{fill:'#fff', stroke:'#000', lineWidth:2.5}},
    {type:'line', z:100, shape:{x1:1008,y1:38,x2:1041,y2:38}, style:{stroke:'#1f2b8e', lineWidth:5}},
    T(1048, 39, 'Low Å Experiment Median', 23),
    {type:'rect', z:100, shape:{x:1008,y:67,width:33,height:49}, style:{fill:BAND_BLUE_LEGEND, stroke:'#c8c8c8', lineWidth:1}},
    T(1048, 77, 'Low Å Experiment 25{sup|th} - 75{sup|th}', 23, {rich:{sup:{fontSize:14, fontFamily:FONT, verticalAlign:'top', fill:'#000'}}}),
    T(1048, 104, 'Percentile Band', 23),
    {type:'line', z:100, shape:{x1:1008,y1:143,x2:1041,y2:143}, style:{stroke:RED, lineWidth:5}},
    T(1048, 144, 'High Å Experiment Median', 23),
    {type:'rect', z:100, shape:{x:1008,y:172,width:33,height:49}, style:{fill:BAND_PEACH, stroke:'#c8c8c8', lineWidth:1}},
    T(1048, 183, 'High Å Experiment 25th - 75th', 23),
    T(1048, 211, 'Percentile Band', 23),
    // distribution percentile key
    {type:'rect', z:90, shape:{x:1001,y:614,width:350,height:88}, style:{fill:'#fff', stroke:'#000', lineWidth:2.5}},
    T(1178, 634, 'Distribution Percentiles', 23, {align:'center'}),
    {type:'line', z:100, shape:{x1:1030,y1:660,x2:1301,y2:660}, style:{stroke:'#9b9b9b', lineWidth:3}},
    {type:'rect', z:101, shape:{x:1082,y:654,width:127,height:12}, style:{fill:'#1a1a1a'}},
    {type:'circle', z:102, shape:{cx:1130,cy:660,r:8.5}, style:{fill:'#fff', stroke:'#000', lineWidth:2.5}},
    T(1028, 685, '5', 23, {align:'center'}), T(1081, 685, '25', 23, {align:'center'}), T(1130, 685, '50', 23, {align:'center'}),
    T(1208, 685, '75', 23, {align:'center'}), T(1299, 685, '95', 23, {align:'center'}),
    // violin annotations
    T(1370, 843, 'n = 6.9 x 10{sup|5}', 28, {align:'right', fill:'#262f96', rich:supStyle('#262f96')}),
    T(1370, 876, 'mean = 6.5 mm', 28, {align:'right', fill:'#262f96'}),
    T(1370, 959, 'n = 3.8 x 10{sup|5}', 28, {align:'right', fill:RED, rich:supStyle(RED)}),
    T(1370, 991, 'mean = 6.9 mm', 28, {align:'right', fill:RED}),
    T(973, 885, 'Low Å', 23, {fill:'#fff'}),
    T(973, 957, 'High Å', 23, {fill:'#fff'}),
    T(1370, 1183, 'n = 6.9 x 10{sup|5}', 28, {align:'right', fill:'#262f96', rich:supStyle('#262f96')}),
    T(1370, 1217, 'mean = 31.4 mm', 28, {align:'right', fill:'#262f96'}),
    T(1370, 1368, 'n = 3.8 x 10{sup|5}', 28, {align:'right', fill:RED, rich:supStyle(RED)}),
    T(1370, 1402, 'mean = 40.9 mm', 28, {align:'right', fill:RED}),
    T(1055, 1228, 'Low Å', 23, {fill:'#fff', align:'center'}),
    T(1055, 1340, 'High Å', 23, {fill:'#fff', align:'center'})
  ]
);

const chart = echarts.init(document.getElementById('c'), null, {renderer:'canvas'});
chart.setOption({
  backgroundColor:'#fff',
  animation:false,
  grid:grids,
  xAxis:xAxis,
  yAxis:yAxis,
  series:series,
  graphic:{elements:graphic}
});
</script></body></html>
